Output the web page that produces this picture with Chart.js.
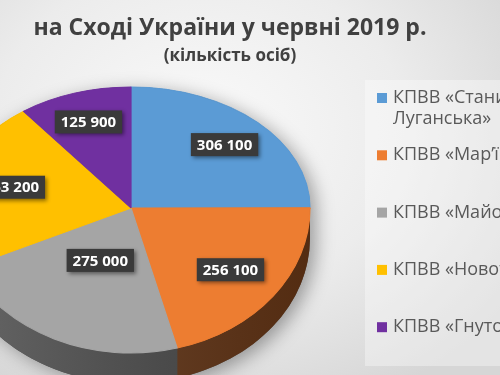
<!DOCTYPE html>
<html>
<head>
<meta charset="utf-8">
<script src="https://cdn.jsdelivr.net/npm/chart.js@4.4.0/dist/chart.umd.min.js"></script>
<style>
  html, body { margin: 0; padding: 0; }
  body {
    width: 500px;
    height: 375px;
    overflow: hidden;
    background: radial-gradient(ellipse 75% 80% at 40% 35%, #fafafa 0%, #ececec 55%, #d6d6d6 100%);
  }
  canvas { display: block; }
</style>
</head>
<body>
<canvas id="pieChart" width="500" height="375"></canvas>
<script>
// Data
const labels = ["КПВВ «Станиця Луганська»", "КПВВ «Мар’їнка»", "КПВВ «Майорське»", "КПВВ «Новотроїцьке»", "КПВВ «Гнутове»"]
const values = [306100, 256100, 275000, 263200, 125900]
const colors = ["#5b9bd5", "#ed7d31", "#a5a5a5", "#ffc000", "#7030a0"]
const sideColors = ["#2f5f8c", "#5f3214", "#464646", "#8c6a00", "#3c1a58"]

// Pie layout on the page (the slide shows a tilted pie)
const pie = { cx: 131, cy: 208, rx: 179, ryTop: 121, ryBottom: 145, depth: 30 }
const labelRadius = [0.74, 0.7, 0.4, 0.69, 0.75]
const fontFamily = "'Open Sans'"

function formatValue(v) {
  return v.toString().replace(/\B(?=(\d{3})+(?!\d))/g, " ")
}

function applyTransform(ctx, arc, ry) {
  ctx.translate(pie.cx, pie.cy)
  ctx.scale(pie.rx / arc.outerRadius, ry / arc.outerRadius)
  ctx.translate(-arc.x, -arc.y)
}

const pie3d = {
  id: "pie3d",
  beforeDraw(chart) {
    // legend panel
    const ctx = chart.ctx
    ctx.save()
    ctx.fillStyle = "rgba(255,255,255,0.35)"
    ctx.fillRect(365, 80, 140, 286)
    ctx.restore()
  },
  beforeDatasetsDraw(chart) {
    const ctx = chart.ctx
    const meta = chart.getDatasetMeta(0)

    // shadow under the pie
    ctx.save()
    ctx.shadowColor = "rgba(0,0,0,0.35)"
    ctx.shadowBlur = 18
    ctx.shadowOffsetX = 6
    ctx.shadowOffsetY = 4
    ctx.fillStyle = "#555"
    ctx.beginPath()
    ctx.ellipse(pie.cx, pie.cy + pie.depth, pie.rx, pie.ryBottom, 0, 0, Math.PI)
    ctx.ellipse(pie.cx, pie.cy, pie.rx, pie.ryTop, 0, Math.PI, Math.PI * 2)
    ctx.closePath()
    ctx.fill()
    ctx.restore()

    // side walls of the front half
    meta.data.forEach((arc, i) => {
      const s = Math.max(arc.startAngle, 0)
      const e = Math.min(arc.endAngle, Math.PI)
      if (s >= e) return
      ctx.save()
      ctx.beginPath()
      ctx.ellipse(pie.cx, pie.cy, pie.rx, pie.ryBottom, 0, s, e)
      ctx.ellipse(pie.cx, pie.cy + pie.depth, pie.rx, pie.ryBottom, 0, e, s, true)
      ctx.closePath()
      const grad = ctx.createLinearGradient(pie.cx - pie.rx, 0, pie.cx + pie.rx, 0)
      grad.addColorStop(0, "rgba(255,255,255,0.18)")
      grad.addColorStop(1, "rgba(0,0,0,0.12)")
      ctx.fillStyle = sideColors[i]
      ctx.fill()
      ctx.fillStyle = grad
      ctx.fill()
      ctx.restore()
    })

    // upper half of the top face (drawn by the library)
    ctx.save()
    ctx.beginPath()
    ctx.rect(0, 0, chart.width, pie.cy + 1)
    ctx.clip()
    applyTransform(ctx, meta.data[0], pie.ryTop)
  },
  afterDatasetsDraw(chart) {
    const ctx = chart.ctx
    const meta = chart.getDatasetMeta(0)
    ctx.restore()

    // lower half of the top face
    ctx.save()
    ctx.beginPath()
    ctx.rect(0, pie.cy, chart.width, chart.height - pie.cy)
    ctx.clip()
    applyTransform(ctx, meta.data[0], pie.ryBottom)
    meta.controller.draw()
    ctx.restore()

    // data labels
    ctx.save()
    ctx.font = "bold 15px " + fontFamily
    ctx.textAlign = "center"
    ctx.textBaseline = "middle"
    meta.data.forEach((arc, i) => {
      const mid = (arc.startAngle + arc.endAngle) / 2
      const ry = Math.sin(mid) < 0 ? pie.ryTop : pie.ryBottom
      const px = pie.cx + Math.cos(mid) * pie.rx * labelRadius[i]
      const py = pie.cy + Math.sin(mid) * ry * labelRadius[i]
      const text = formatValue(chart.data.datasets[0].data[i])
      const w = ctx.measureText(text).width + 12
      const h = 23
      ctx.save()
      ctx.shadowColor = "rgba(0,0,0,0.45)"
      ctx.shadowBlur = 4
      ctx.shadowOffsetX = 2
      ctx.shadowOffsetY = 2
      ctx.fillStyle = "#3a3a3a"
      ctx.fillRect(px - w / 2, py - h / 2, w, h)
      ctx.restore()
      ctx.fillStyle = "#ffffff"
      ctx.fillText(text, px, py + 1)
    })
    ctx.restore()
  },
  afterDraw(chart) {
    // legend
    const ctx = chart.ctx
    ctx.save()
    ctx.font = "18px " + fontFamily
    ctx.textBaseline = "middle"
    const maxWidth = 220
    chart.data.labels.forEach((label, i) => {
      const y = 98 + i * 57.3
      ctx.fillStyle = colors[i]
      ctx.fillRect(377, y - 5, 10, 10)
      ctx.fillStyle = "#595959"
      // wrap long labels
      const words = label.split(" ")
      const lines = []
      let line = ""
      words.forEach((word) => {
        const test = line ? line + " " + word : word
        if (ctx.measureText(test).width > maxWidth && line) {
          lines.push(line)
          line = word
        } else {
          line = test
        }
      })
      lines.push(line)
      lines.forEach((l, j) => ctx.fillText(l, 393, y + j * 21))
    })
    ctx.restore()
  },
}

const ctx = document.getElementById("pieChart")

new Chart(ctx, {
  type: "pie",
  data: {
    labels: labels,
    datasets: [
      {
        data: values,
        backgroundColor: colors,
        borderColor: colors,
        borderWidth: 1,
        clip: false,
      },
    ],
  },
  options: {
    responsive: false,
    animation: false,
    layout: {
      padding: { right: 40 },
    },
    plugins: {
      legend: { display: false },
      tooltip: { enabled: false },
      title: {
        display: true,
        text: "на Сході України у червні 2019 р.",
        color: "#404040",
        font: { family: fontFamily, size: 23, weight: "bold" },
        padding: { top: 15, bottom: 3 },
      },
      subtitle: {
        display: true,
        text: "(кількість осіб)",
        color: "#404040",
        font: { family: fontFamily, size: 17, weight: "bold" },
        padding: { top: 0, bottom: 10 },
      },
    },
  },
  plugins: [pie3d],
})
</script>
</body>
</html>
